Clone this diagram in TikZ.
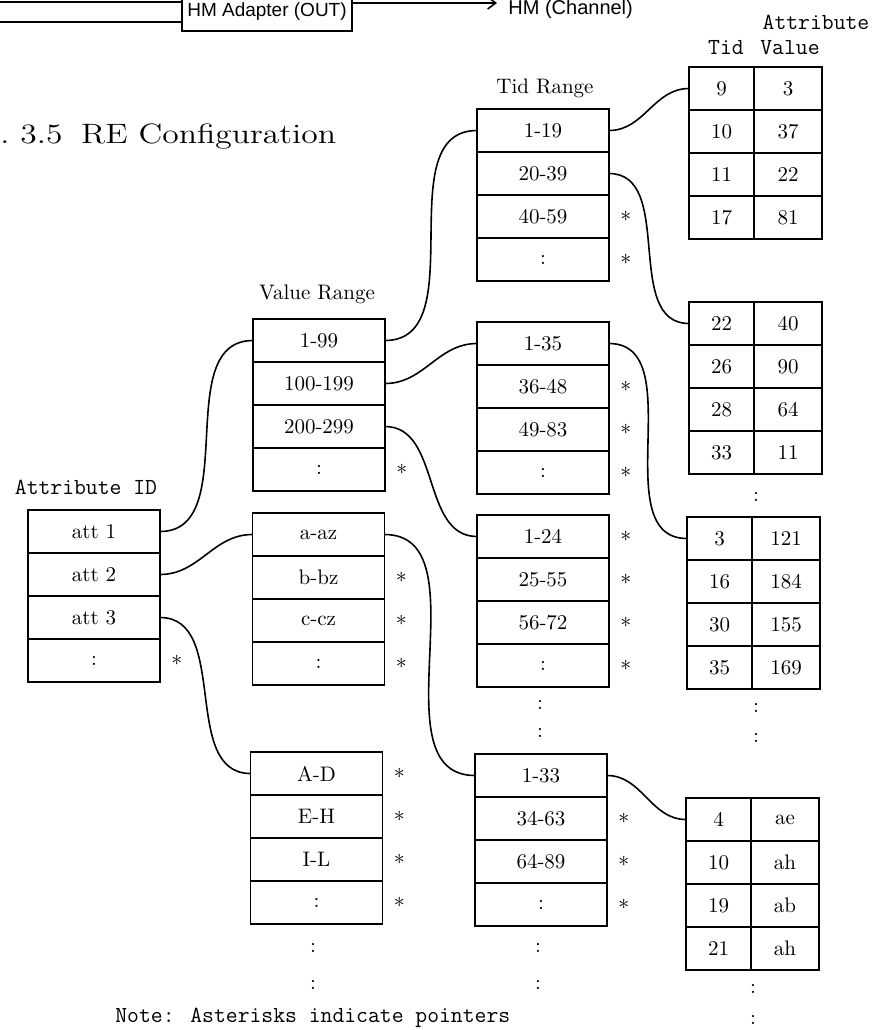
\documentclass[tikz,border=0pt]{standalone}
\usepackage{fontspec}
\newfontfamily\hmsans{Liberation Sans}
\usetikzlibrary{positioning,arrows.meta}

\begin{document}
\begin{tikzpicture}[
    x=0.5pt, y=-0.5pt,
    font=\fontsize{10.5}{12}\selectfont,
    cell/.style={
        rectangle, draw=black, line width=0.9pt, minimum width=66pt,
        minimum height=21.5pt, inner sep=0pt, outer sep=0pt
    },
    tidcell/.style={cell, minimum width=32.5pt},
    valcell/.style={cell, minimum width=34pt},
    marked/.style={
        label={[inner sep=0pt, label distance=5.5pt]east:$\ast$}
    },
    pointer/.style={line width=0.8pt, draw=black},
    headLabel/.style={font=\ttfamily\fontsize{11.5}{13}\selectfont, inner sep=0pt},
    rangeLabel/.style={font=\fontsize{10.5}{12}\selectfont, inner sep=0pt},
    moreDots/.style={inner sep=0pt},
    hmBox/.style={
        rectangle, draw=black, line width=0.9pt, font=\hmsans\fontsize{9.5}{11}\selectfont,
        minimum width=85pt, inner xsep=0pt, inner ysep=3pt, text height=10pt, text depth=4.5pt
    }
]
\useasboundingbox (0,0) rectangle (879,1030);
\clip (0,0) rectangle (879,1030);
\fill[white] (0,0) rectangle (879,1030);

% Remains of the figure above (cut off at the top)
\node[hmBox, anchor=south] (hmOut) at (267,32) {HM Adapter (OUT)};
\node[font=\hmsans\fontsize{10}{12}\selectfont, anchor=base west, inner sep=0pt] (hmCh) at (508,14) {HM (Channel)};
\coordinate (hmInA) at (0,2);
\coordinate (hmInB) at (0,22);
\coordinate (hmChIn) at (497,3);
\draw[pointer] (hmInA) -- (hmInA -| hmOut.west);
\draw[pointer] (hmInB) -- (hmInB -| hmOut.west);
\draw[pointer, -{Straight Barb[length=4pt, width=6pt]}] (hmChIn -| hmOut.east) -- (hmChIn);

% Caption
\node[anchor=base west, inner sep=0pt] (figTitle) at (0,143) {\scalebox{1.2}[1]{\fontsize{14}{16}\selectfont .\ 3.5\hspace{0.55em}RE Configuration}};

% Attribute ID table
\node[headLabel] (attHead) at (86,487) {Attribute ID};
\node[cell] (att1) at (94,531.5) {att 1};
\node[cell, below=0pt of att1] (att2) {att 2};
\node[cell, below=0pt of att2] (att3) {att 3};
\node[cell, marked, below=0pt of att3] (att4) {:};

% Value Range tables
\node[rangeLabel] (vrHead) at (317,294) {Value Range};
\node[cell] (vrA1) at (319,340.5) {1-99};
\node[cell, below=0pt of vrA1] (vrA2) {100-199};
\node[cell, below=0pt of vrA2] (vrA3) {200-299};
\node[cell, marked, below=0pt of vrA3] (vrA4) {:};

\node[cell] (vrB1) at (318.5,534.5) {a-az};
\node[cell, marked, below=0pt of vrB1] (vrB2) {b-bz};
\node[cell, marked, below=0pt of vrB2] (vrB3) {c-cz};
\node[cell, marked, below=0pt of vrB3] (vrB4) {:};

\node[cell, marked] (vrC1) at (316.5,773.5) {A-D};
\node[cell, marked, below=0pt of vrC1] (vrC2) {E-H};
\node[cell, marked, below=0pt of vrC2] (vrC3) {I-L};
\node[cell, marked, below=0pt of vrC3] (vrC4) {:};
\node[moreDots] (vrDotsA) at (313,948) {:};
\node[moreDots] (vrDotsB) at (313,985) {:};

% Tid Range tables
\node[rangeLabel] (trHead) at (545,88) {Tid Range};
\node[cell] (trA1) at (543,130.5) {1-19};
\node[cell, below=0pt of trA1] (trA2) {20-39};
\node[cell, marked, below=0pt of trA2] (trA3) {40-59};
\node[cell, marked, below=0pt of trA3] (trA4) {:};

\node[cell] (trB1) at (543,343.5) {1-35};
\node[cell, marked, below=0pt of trB1] (trB2) {36-48};
\node[cell, marked, below=0pt of trB2] (trB3) {49-83};
\node[cell, marked, below=0pt of trB3] (trB4) {:};

\node[cell, marked] (trC1) at (543,536.5) {1-24};
\node[cell, marked, below=0pt of trC1] (trC2) {25-55};
\node[cell, marked, below=0pt of trC2] (trC3) {56-72};
\node[cell, marked, below=0pt of trC3] (trC4) {:};
\node[moreDots] (trDotsA) at (540,705) {:};
\node[moreDots] (trDotsB) at (540,733) {:};

\node[cell] (trD1) at (541,775.5) {1-33};
\node[cell, marked, below=0pt of trD1] (trD2) {34-63};
\node[cell, marked, below=0pt of trD2] (trD3) {64-89};
\node[cell, marked, below=0pt of trD3] (trD4) {:};
\node[moreDots] (trDotsC) at (538,948) {:};
\node[moreDots] (trDotsD) at (538,985) {:};

% Attribute Value tables
\node[headLabel] (avHead) at (816,22) {Attribute};
\node[headLabel] (avTid) at (726,48) {Tid};
\node[headLabel] (avVal) at (790,48) {Value};

\node[tidcell] (avA1) at (721.5,88.5) {9};
\node[valcell, right=0pt of avA1] (avA1v) {3};
\node[tidcell, below=0pt of avA1] (avA2) {10};
\node[valcell, right=0pt of avA2] (avA2v) {37};
\node[tidcell, below=0pt of avA2] (avA3) {11};
\node[valcell, right=0pt of avA3] (avA3v) {22};
\node[tidcell, below=0pt of avA3] (avA4) {17};
\node[valcell, right=0pt of avA4] (avA4v) {81};

\node[tidcell] (avB1) at (721.5,323.5) {22};
\node[valcell, right=0pt of avB1] (avB1v) {40};
\node[tidcell, below=0pt of avB1] (avB2) {26};
\node[valcell, right=0pt of avB2] (avB2v) {90};
\node[tidcell, below=0pt of avB2] (avB3) {28};
\node[valcell, right=0pt of avB3] (avB3v) {64};
\node[tidcell, below=0pt of avB3] (avB4) {33};
\node[valcell, right=0pt of avB4] (avB4v) {11};
\node[moreDots] (avDotsA) at (756,497) {:};

\node[tidcell] (avC1) at (719.5,538.5) {3};
\node[valcell, right=0pt of avC1] (avC1v) {121};
\node[tidcell, below=0pt of avC1] (avC2) {16};
\node[valcell, right=0pt of avC2] (avC2v) {184};
\node[tidcell, below=0pt of avC2] (avC3) {30};
\node[valcell, right=0pt of avC3] (avC3v) {155};
\node[tidcell, below=0pt of avC3] (avC4) {35};
\node[valcell, right=0pt of avC4] (avC4v) {169};
\node[moreDots] (avDotsB) at (756,708) {:};
\node[moreDots] (avDotsC) at (756,738) {:};

\node[tidcell] (avD1) at (718.5,819.5) {4};
\node[valcell, right=0pt of avD1] (avD1v) {ae};
\node[tidcell, below=0pt of avD1] (avD2) {10};
\node[valcell, right=0pt of avD2] (avD2v) {ah};
\node[tidcell, below=0pt of avD2] (avD3) {19};
\node[valcell, right=0pt of avD3] (avD3v) {ab};
\node[tidcell, below=0pt of avD3] (avD4) {21};
\node[valcell, right=0pt of avD4] (avD4v) {ah};
\node[moreDots] (avDotsD) at (753,989) {:};
\node[moreDots] (avDotsE) at (753,1020) {:};

% Pointers between tables
\draw[pointer] (att1.east) to[out=0, in=180] (vrA1.west);
\draw[pointer] (att2.east) to[out=0, in=180] (vrB1.west);
\draw[pointer] (att3.east) to[out=0, in=180] (vrC1.west);
\draw[pointer] (vrA1.east) to[out=0, in=180] (trA1.west);
\draw[pointer] (vrA2.east) to[out=0, in=180] (trB1.west);
\draw[pointer] (vrA3.east) to[out=0, in=180] (trC1.west);
\draw[pointer] (vrB1.east) to[out=0, in=180] (trD1.west);
\draw[pointer] (trA1.east) to[out=0, in=180] (avA1.west);
\draw[pointer] (trA2.east) to[out=0, in=180] (avB1.west);
\draw[pointer] (trB1.east) to[out=0, in=180] (avC1.west);
\draw[pointer] (trD1.east) to[out=0, in=180] (avD1.west);

% Note at the foot
\node[headLabel, anchor=base west] (note) at (115,1022) {Note: Asterisks indicate pointers};

\end{tikzpicture}
\end{document}
